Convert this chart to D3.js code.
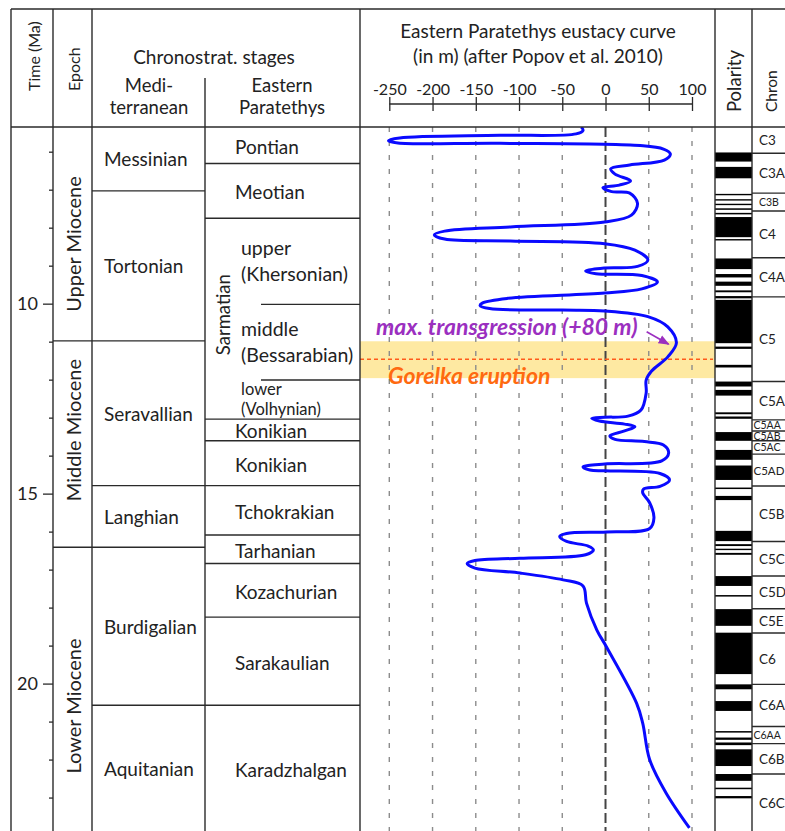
<!DOCTYPE html>
<html><head><meta charset="utf-8">
<script src="https://cdn.jsdelivr.net/npm/d3@7"></script>
<style>
body{margin:0;background:#fff}
text{font-family:Lato,"Open Sans",sans-serif;fill:#222}
</style>
</head><body>
<svg id="chart" width="785" height="831"></svg>
<script>
// ---------------- data ----------------
const ageTicks = [6,7,8,9,10,11,12,13,14,15,16,17,18,19,20,21,22,23];
const ageLabels = [10,15,20];

const epochNames = ["Upper Miocene","Middle Miocene","Lower Miocene"];
const epochTop   = [5.35, 10.98, 16.41];
const epochBase  = [10.98, 16.41, 23.9];
const epochLabelMa = [8.43, 13.33, 20.59];

const medStages = ["Messinian","Tortonian","Seravallian","Langhian","Burdigalian","Aquitanian"];
const medTop    = [5.35, 7.03, 10.98, 14.79, 16.41, 20.57];
const medBase   = [7.03, 10.98, 14.79, 16.41, 20.57, 23.9];

const epStages = ["Pontian","Meotian","Sarmatian","Konikian","Konikian","Tchokrakian","Tarhanian","Kozachurian","Sarakaulian","Karadzhalgan"];
const epTop    = [5.35, 6.31, 7.75, 13.04, 13.61, 14.79, 16.09, 16.84, 18.25, 20.57];
const epBase   = [6.31, 7.75, 13.04, 13.61, 14.79, 16.09, 16.84, 18.25, 20.57, 23.9];

const sarmSub   = [["upper","(Khersonian)"],["middle","(Bessarabian)"],["lower","(Volhynian)"]];
const sarmTop   = [7.75, 10.02, 12.01];
const sarmBase  = [10.02, 12.01, 13.04];

const chronNames = ["C3","C3A","C3B","C4","C4A","C5","C5A","C5AA","C5AB","C5AC","C5AD","C5B","C5C","C5D","C5E","C6","C6A","C6AA","C6B","C6C"];
const chronTop   = [5.35,6.04,7.09,7.56,8.79,9.82,12.05,13.06,13.35,13.61,13.96,14.80,16.26,17.17,18.03,18.67,20.02,21.13,21.58,22.38];
const chronBase  = [6.04,7.09,7.56,8.79,9.82,12.05,13.06,13.35,13.61,13.96,14.80,16.26,17.17,18.03,18.67,20.02,21.13,21.58,22.38,23.9];

const normTop  = [6.02,6.40,7.11,7.25,7.37,7.49,7.61,7.72,8.30,8.81,9.22,9.42,9.65,9.80,9.90,11.13,11.61,12.05,12.27,12.86,12.97,13.38,13.85,14.26,14.84,15.06,15.98,16.33,16.45,16.56,17.17,17.67,18.04,18.66,20.02,20.46,21.25,21.42,21.55,21.73,22.38,22.74,22.96];
const normBase = [6.26,6.70,7.14,7.28,7.40,7.53,7.65,8.25,8.33,9.09,9.31,9.53,9.70,9.86,11.04,11.19,11.68,12.18,12.42,12.91,13.03,13.61,14.11,14.64,14.88,15.17,16.25,16.38,16.48,16.61,17.43,17.71,18.48,19.75,20.15,20.72,21.29,21.48,21.62,22.17,22.56,22.78,23.02];

const levelTicks = [-250,-200,-150,-100,-50,0,50,100];
const eustAge = [5.35,5.44,5.53,5.57,5.64,5.71,5.77,5.78,5.84,5.93,
 6.06,6.22,6.35,6.45,6.59,6.77,6.88,6.95,7.05,7.09,
 7.36,7.67,7.85,7.98,8.09,8.19,8.30,8.35,8.42,8.59,
 8.85,9.02,9.06,9.14,9.21,9.26,9.43,9.61,9.72,9.86,
 9.98,10.05,10.13,10.17,10.19,10.34,10.61,11.03,11.40,11.78,
 12.01,12.35,12.80,12.96,12.99,13.02,13.09,13.17,13.24,13.35,
 13.48,13.57,13.63,13.72,13.93,14.14,14.22,14.30,14.38,14.40,
 14.47,14.64,14.81,14.88,14.98,15.24,15.64,15.92,16.01,16.05,
 16.13,16.26,16.38,16.48,16.61,16.70,16.76,16.84,16.96,17.09,
 17.27,17.43,17.88,18.59,19.03,20.52,21.04,22.00,22.88,23.80];
const eustLevel = [-28,-26,-34,-122,-238,-251,-240,-122,40,67,
 75,68,28,6,11,29,16,-3,7,28,
 37,30,-1,-110,-186,-198,-186,-110,-1,34,
 49,37,-1,-23,-11,42,60,42,-1,-113,
 -142,-145,-134,-50,-1,49,72,82,72,53,
 47,47,41,26,-1,-16,-7,22,34,22,
 5,11,45,67,73,65,-1,-26,-18,-1,
 63,74,63,44,43,51,56,51,1,-45,
 -53,-45,-20,-14,-23,-99,-151,-160,-151,-99,
 -49,-26,-22,-10,1,36,43,51,70,97];

const gorelkaAge = 11.46, bandTop = 10.99, bandBase = 11.96;
const maxTransAge = 11.07, maxTransLevel = 73;

// ---------------- layout ----------------
const W = 785, H = 831;
const top0 = 9, hdr = 127;
const xL = 11, xTime = 53, xEpoch = 92, xMed = 205, xEP = 360, xCurveR = 715, xPol = 752, xSub = 261;
const stroke = "#2a2a2a";

const svg = d3.select("#chart");
const y = d3.scaleLinear().domain([5.35, 23.88]).range([hdr, H]);
const xs = d3.scaleLinear().domain([-250, 100]).range([389.3, 692]);

// yellow band (Gorelka)
svg.append("rect").attr("x", xEP).attr("width", xCurveR - xEP)
  .attr("y", y(bandTop)).attr("height", y(bandBase) - y(bandTop)).attr("fill", "#fee9a2");

// dashed grid lines
svg.append("g").selectAll("line").data(levelTicks).join("line")
  .attr("x1", d => xs(d)).attr("x2", d => xs(d)).attr("y1", hdr).attr("y2", H)
  .attr("stroke", d => d === 0 ? "#444" : "#8c8c8c")
  .attr("stroke-width", d => d === 0 ? 2 : 1.4)
  .attr("stroke-dasharray", d => d === 0 ? "10,4" : "5,9");

// Gorelka dashed line
svg.append("line").attr("x1", xEP).attr("x2", xCurveR - 2).attr("y1", y(gorelkaAge)).attr("y2", y(gorelkaAge))
  .attr("stroke", "#ff5a1a").attr("stroke-width", 1.5).attr("stroke-dasharray", "4,3");

// eustacy curve
svg.append("clipPath").attr("id", "cc").append("rect").attr("x", xEP).attr("y", hdr).attr("width", xCurveR - xEP).attr("height", H - hdr);
const pts = eustAge.map((a, i) => [eustLevel[i], a]);
svg.append("path").datum(pts).attr("clip-path", "url(#cc)")
  .attr("d", d3.line().x(d => xs(d[0])).y(d => y(d[1])).curve(d3.curveCatmullRom.alpha(0.5)))
  .attr("fill", "none").attr("stroke", "#0a0aff").attr("stroke-width", 3).attr("stroke-linejoin", "round");

// polarity
svg.append("g").selectAll("rect").data(normTop).join("rect")
  .attr("x", xCurveR).attr("width", xPol - xCurveR)
  .attr("y", (d) => y(d)).attr("height", (d, i) => Math.max(1.4, y(normBase[i]) - y(d)))
  .attr("fill", "#000");

// ---------------- grid / frame ----------------
const g = svg.append("g").attr("stroke", stroke).attr("stroke-width", 1.4);
function hline(x1, x2, yy){ g.append("line").attr("x1", x1).attr("x2", x2).attr("y1", yy).attr("y2", yy); }
function vline(xx, y1, y2){ g.append("line").attr("x1", xx).attr("x2", xx).attr("y1", y1).attr("y2", y2); }
hline(xL, W, top0); hline(xL, W, hdr);
vline(xL, top0, H); vline(xTime, top0, H); vline(xEpoch, top0, H);
vline(xMed, 78, H); vline(xEP, top0, H); vline(xCurveR, top0, H); vline(xPol, top0, H);
epochTop.slice(1).forEach(t => hline(xTime, xEpoch, y(t)));
medTop.slice(1).forEach(t => hline(xEpoch, xMed, y(t)));
epTop.slice(1).forEach(t => hline(xMed, xEP, y(t)));
sarmTop.slice(1).forEach(t => hline(xSub, xEP, y(t)));
chronTop.slice(1).forEach(t => hline(xPol, W, y(t)));

// ---------------- time axis ----------------
const ax = svg.append("g").attr("transform", `translate(${xTime},0)`)
  .call(d3.axisLeft(y).tickValues(ageTicks).tickSize(10).tickPadding(5)
    .tickFormat(d => ageLabels.includes(d) ? d : ""));
ax.select(".domain").remove();
ax.selectAll(".tick line").attr("stroke", stroke).attr("stroke-width", 1.3)
  .attr("x2", d => ageLabels.includes(d) ? -10 : -4);
ax.selectAll(".tick text").attr("font-family", "Lato, sans-serif").attr("font-size", 18).attr("fill", "#222");

// ---------------- level axis ----------------
const lax = svg.append("g").attr("transform", "translate(0,111)")
  .call(d3.axisTop(xs).tickValues(levelTicks).tickSize(14).tickSizeOuter(0).tickPadding(2)
    .tickFormat(d => d));
lax.select(".domain").remove();
lax.selectAll(".tick line").attr("stroke", stroke).attr("stroke-width", 1.3);
lax.selectAll(".tick text").attr("font-family", "Lato, sans-serif").attr("font-size", 16).attr("fill", "#222");
g.append("line").attr("x1", xs(-250)).attr("x2", xs(100)).attr("y1", 104).attr("y2", 104);

// ---------------- header texts ----------------
function rot(txt, cx, by, fs, anchor){
  return svg.append("text").attr("transform", `translate(${cx},${by}) rotate(-90)`)
    .attr("text-anchor", anchor || "start")
    .attr("dominant-baseline", "central").attr("font-size", fs).text(txt);
}
rot("Time (Ma)", 33, 91, 16);
rot("Epoch", 73, 91, 16);
rot("Polarity", 734, 112, 18.5);
rot("Chron", 771, 112, 15.5);
function ctext(txt, cx, by, fs){
  svg.append("text").attr("x", cx).attr("y", by).attr("text-anchor", "middle").attr("font-size", fs).text(txt);
}
ctext("Chronostrat. stages", 214, 64, 19);
ctext("Medi-", 149, 92, 18.5);
ctext("terranean", 149, 114, 18.5);
ctext("Eastern", 282, 92, 18.5);
ctext("Paratethys", 282, 114, 18.5);
ctext("Eastern Paratethys eustacy curve", 538, 38, 19);
ctext("(in m) (after Popov et al. 2010)", 538, 63, 19);

// ---------------- column labels ----------------
epochNames.forEach((n, i) => rot(n, 73, y(epochLabelMa[i]), 20, "middle"));

medStages.forEach((n, i) => {
  svg.append("text").attr("x", 104).attr("y", y((medTop[i] + Math.min(medBase[i], 23.88)) / 2))
    .attr("dominant-baseline", "central").attr("font-size", 19).text(n);
});
epStages.forEach((n, i) => {
  if (n === "Sarmatian") {
    rot(n, 223, (y(epTop[i]) + y(epBase[i])) / 2 - 4, 18.5, "middle");
    return;
  }
  svg.append("text").attr("x", 235).attr("y", (y(epTop[i]) + y(Math.min(epBase[i], 23.88))) / 2 + 1)
    .attr("dominant-baseline", "central").attr("font-size", 19).text(n);
});
sarmSub.forEach((lines, i) => {
  const cy = (y(sarmTop[i]) + y(sarmBase[i])) / 2;
  const tight = i === 2;
  const gap = tight ? 20 : 26;
  lines.forEach((l, j) => {
    svg.append("text").attr("x", 241).attr("y", cy + (j - 0.5) * gap - 1)
      .attr("dominant-baseline", "central").attr("font-size", tight ? 16.5 : 19.5).text(l);
  });
});
chronNames.forEach((n, i) => {
  const small = (chronBase[i] - chronTop[i]) < 0.5;
  const long = n.length > 3;
  svg.append("text").attr("x", long ? 753.5 : 759).attr("y", (y(chronTop[i]) + y(Math.min(chronBase[i], 23.88))) / 2)
    .attr("dominant-baseline", "central").attr("font-size", small ? 10.5 : (long ? 11.5 : 13.5)).text(n);
});

// ---------------- annotations ----------------
svg.append("defs").append("marker").attr("id", "arr").attr("viewBox", "0 0 10 10")
  .attr("refX", 9).attr("refY", 5).attr("markerWidth", 7).attr("markerHeight", 7).attr("orient", "auto")
  .append("path").attr("d", "M0,1 L10,5 L0,9 z").attr("fill", "#9b2fc0");
const ax2 = xs(maxTransLevel), ay2 = y(maxTransAge);
svg.append("line").attr("x1", ax2 - 22).attr("y1", ay2 - 12.5).attr("x2", ax2).attr("y2", ay2)
  .attr("stroke", "#9b2fc0").attr("stroke-width", 1.6).attr("marker-end", "url(#arr)");
svg.append("text").attr("x", 376).attr("y", 335).attr("font-size", 23).attr("font-weight", "bold")
  .attr("font-style", "italic").style("fill", "#9b2fc0").text("max. transgression (+80 m)");
svg.append("text").attr("x", 388).attr("y", 384).attr("font-size", 23).attr("font-weight", "bold")
  .attr("font-style", "italic").style("fill", "#ff6a10").text("Gorelka eruption");
</script>
</body></html>
